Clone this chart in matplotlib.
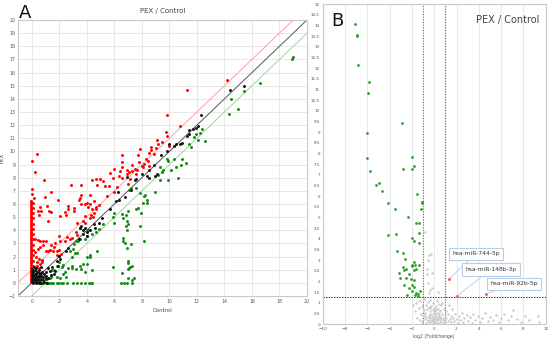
import matplotlib
matplotlib.use("Agg")
import matplotlib.pyplot as plt
import numpy as np

# ---------------- Panel A data (Control, PEX) ----------------
red_col_y = [0.1,0.2,0.3,0.4,0.5,0.6,0.7,0.8,0.9,1.0,1.1,1.2,1.35,1.5,1.6,1.75,1.9,2.0,2.15,2.3,2.45,2.6,2.7,2.85,
             3.0,3.15,3.3,3.45,3.6,3.75,3.9,4.05,4.2,4.35,4.5,4.65,4.8,4.95,5.1,5.25,5.4,5.55,5.7,5.85,6.0,6.15,6.25]
red_col2_y = [0.3,0.6,0.9,1.3,1.7,2.1,2.5,2.9,3.3,3.7,4.1,4.5,4.9,5.3,5.7,6.1]
red_pts = [(0.0,9.3),(0.4,9.8),(0.2,8.4),(0.87,7.85),(0.0,7.13),(0.0,6.78),(0.17,6.46),(0.6,5.8),(0.7,5.5),(0.45,5.5),
           (0.5,5.2),(0.95,6.57),(1.43,6.93),(1.14,5.86),(1.25,5.5),(1.43,5.4),(1.19,4.72),(1.94,6.3),(2.04,5.1),(2.4,5.36),
           (2.5,5.18),(2.6,5.86),(2.6,5.6),(2.84,7.46),(3.1,5.7),(3.1,5.5),(3.56,7.46),(3.5,6.45),(3.45,6.3),(3.6,6.65),
           (3.6,6.0),(3.85,5.99),(4.0,6.1),(4.1,5.75),(4.2,6.65),(4.25,6.0),(4.36,7.79),(4.65,7.89),(4.94,7.89),(4.75,7.46),
           (4.4,5.6),(4.5,5.35),(4.65,5.6),(4.7,5.8),(4.55,6.2),(4.85,5.9),(5.2,7.76),(5.3,7.4),(5.68,8.35),(5.6,7.4),
           (5.5,6.63),(5.9,7.97),(6.0,6.9),(6.2,7.3),(6.35,8.15),(6.4,8.5),(6.55,7.97),(6.95,8.3),(7.0,7.5),(7.05,8.4),
           (7.15,7.9),(7.25,8.5),(7.6,8.3),(7.65,8.6),
           (0.24,3.35),(0.45,3.28),(0.6,3.2),(0.85,3.2),(1.07,3.15),(0.8,2.9),(0.6,2.75),(1.07,2.4),(1.2,2.4),(1.35,2.5),
           (1.55,2.45),(1.4,2.9),(1.7,3.0),(2.0,2.5),(2.04,3.15),(1.8,2.45),(2.0,3.58),(2.1,2.2),(2.45,3.15),(2.55,3.5),
           (2.9,3.4),(3.3,3.65),(1.8,2.13),(0.3,2.0),(0.35,1.6),(0.55,1.8),(0.75,1.75),(0.72,1.55),(0.4,1.3),(0.5,1.1),
           (0.3,0.9),(0.6,1.45),(0.25,2.35),(0.45,2.55),(1.6,2.7),(3.7,4.7),(3.85,4.55),(3.5,4.2),(3.3,4.55),(3.9,5.05),
           (3.2,3.85),(2.8,3.35),(4.3,5.2),(4.45,5.0),(4.2,4.9),
           (14.2,15.4),(11.25,14.7),(9.8,12.8),(9.75,11.45),(9.84,11.15),(10.8,11.95),(9.1,10.9),(9.16,10.6),(9.45,10.7),
           (8.7,10.3),(8.7,10.1),(9.0,10.25),(7.9,10.2),(7.7,9.7),(7.8,9.16),(8.3,9.4),(8.15,9.06),(8.0,8.9),(8.1,8.85),
           (8.5,8.9),(6.55,9.7),(6.55,9.16),(6.55,8.8),(5.95,8.65),(10.0,10.45),(8.55,9.9),(8.9,9.8),(7.3,9.0),(7.5,8.7),
           (6.9,8.6),(8.45,9.3)]
black_pts = [(8.87,9.0),(9.4,9.7),(9.8,10.0),(10.3,10.4),(10.5,10.6),(10.9,10.65),(11.4,11.3),(11.25,11.2),(11.4,11.6),
             (11.7,11.7),(11.9,11.75),(12.1,11.95),(12.3,12.75),(14.4,14.7),(15.4,14.95),(10.8,10.55),(10.0,10.55),
             (8.5,8.6),(8.0,8.3),(9.1,8.25),(8.95,8.1),(8.5,7.95),(8.4,8.15),(7.5,7.8),(7.55,7.9),(6.9,8.05),(6.3,6.9),
             (6.35,6.3),(5.68,5.6),(4.86,4.55),(4.55,4.45),(4.6,4.15),(4.2,4.05),(4.0,3.9),(3.75,3.75),(3.7,4.0),
             (3.6,4.3),(3.5,4.2),(3.4,3.3),(2.6,2.65),(2.5,2.4),(1.95,2.05),(2.05,1.85),(1.8,1.7),(1.5,1.2),(1.2,1.1),
             (1.05,0.85),(0.7,0.72),(4.05,3.6),(3.9,4.2),(5.1,4.9),(6.1,6.2),(7.2,7.1),(6.8,6.5),
             (0.0,0.05),(0.0,0.15),(0.0,0.3),(0.0,0.45),(0.0,0.6),(0.0,0.75),(0.0,0.9),(0.0,1.05),(0.1,0.0),(0.1,0.2),
             (0.1,0.4),(0.1,0.6),(0.1,0.8),(0.2,0.1),(0.2,0.3),(0.2,0.5),(0.2,0.7),(0.2,0.95),(0.3,0.0),(0.3,0.2),
             (0.3,0.45),(0.3,0.65),(0.35,0.85),(0.4,0.1),(0.4,0.3),(0.45,0.55),(0.5,0.0),(0.5,0.25),(0.5,0.75),
             (0.55,0.45),(0.6,0.1),(0.6,0.6),(0.65,0.3),(0.7,0.0),(0.7,0.5),(0.75,0.8),(0.8,0.2),(0.85,0.45),(0.9,0.05),
             (0.9,0.7),(1.0,0.3),(1.05,0.55),(1.1,0.0),(1.2,0.35),(0.15,1.2),(0.3,1.1),(0.5,1.0),(0.7,1.2),(1.4,0.6),
             (1.3,0.9),(1.6,0.7),(1.7,0.9),(1.9,1.3)]
green_pts = [(9.3,8.8),(9.9,9.3),(9.85,9.45),(10.3,9.45),(10.45,8.8),(10.9,9.45),(10.85,9.0),(11.2,9.1),(11.45,10.6),
             (11.6,10.3),(11.8,11.1),(11.9,11.3),(12.2,11.4),(12.1,10.9),(12.6,10.8),(12.4,11.7),(14.3,12.85),
             (14.45,13.97),(15.0,13.2),(15.4,14.6),(16.6,15.2),(18.9,17.06),(19.0,17.15),(9.55,8.55),(10.1,8.6),
             (10.64,7.97),(9.87,7.82),(9.43,8.4),(9.3,7.85),(8.95,6.93),(9.2,8.2),(8.2,6.7),(8.15,6.6),(8.35,6.3),
             (8.1,6.1),(8.4,6.1),(7.85,6.8),(7.97,5.35),(7.9,4.35),(8.15,3.2),(7.73,5.68),(7.6,5.6),(7.2,7.2),(7.1,7.05),
             (7.6,7.2),(7.0,5.48),(6.85,5.15),(6.95,4.67),(7.0,4.45),(6.88,4.3),(6.9,4.0),(6.53,5.23),(6.6,4.9),(6.6,3.4),
             (6.65,3.2),(6.77,3.0),(7.2,2.95),(6.9,2.65),(6.0,4.55),(6.96,1.7),(7.0,1.5),(7.0,1.05),(7.05,1.15),(7.15,1.2),
             (7.3,1.3),(6.57,0.73),(7.45,0.35),(7.25,0.2),(5.9,1.17),(6.5,0.0),(6.7,0.0),(6.9,0.0),(7.25,0.0),(7.0,0.4),
             (4.75,2.44),(4.25,2.0),(4.2,2.1),(4.0,1.95),(3.7,1.45),(4.0,1.4),(4.35,0.98),(3.85,0.8),(3.55,1.05),(3.5,1.3),
             (3.2,1.05),(2.95,1.3),(2.9,1.1),(2.65,1.15),(2.4,0.85),(2.3,1.35),(2.2,1.2),(2.3,0.7),(2.5,0.45),(1.8,0.45),
             (2.05,0.35),(1.65,0.95),(1.4,0.45),(1.25,0.35),(0.95,0.45),(1.3,0.35),
             (0.55,0.0),(0.67,0.0),(0.85,0.0),(1.05,0.0),(1.2,0.0),(1.3,0.0),(1.45,0.0),(1.55,0.0),(1.8,0.0),(1.9,0.0),
             (2.15,0.0),(2.3,0.0),(2.55,0.0),(3.0,0.0),(3.3,0.0),(3.6,0.0),(3.9,0.0),(4.15,0.0),(4.3,0.0),(4.4,0.0),
             (2.8,2.4),(2.9,2.0),(3.15,2.25),(3.3,2.3),(3.1,2.95),(3.2,3.2),(3.35,3.2),(3.5,3.3),(3.9,3.3),(4.0,3.6),
             (4.1,4.0),(4.86,4.1),(4.65,3.85),(4.35,3.7),(3.0,2.6),(2.0,1.55),(1.85,1.3),(1.5,1.0),(5.2,4.5),(5.9,5.0),
             (5.95,5.3)]

# ---------------- Panel B data (log2 FC, -log10 p) ----------------
green_b = [(-7.1,14.07),(-6.95,13.56),(-6.9,13.5),(-6.86,12.15),(-5.87,11.36),(-5.9,10.82),(-2.86,9.44),(-6.03,8.97),
           (-6.0,7.79),(-1.96,7.82),(-1.81,7.43),(-2.77,7.27),(-2.02,7.27),(-5.76,7.2),(-5.25,6.52),(-4.95,6.63),
           (-4.7,6.26),(-1.52,6.09),(-4.17,5.68),(-3.52,5.39),(-1.12,5.74),(-1.05,5.7),(-1.21,5.39),(-2.32,5.01),
           (-1.66,4.76),(-1.39,4.76),(-3.45,4.21),(-4.17,4.19),(-1.36,4.29),(-1.96,4.03),(-1.81,3.92),(-1.33,3.79),
           (-3.36,3.45),(-2.82,3.36),(-2.62,3.06),(-1.85,2.93),(-1.7,2.8),(-2.0,2.78),(-1.4,2.8),(-1.96,2.73),
           (-2.5,2.57),(-2.7,2.55),(-2.82,2.7),(-1.8,2.55),(-1.6,2.6),(-2.23,2.36),(-3.2,2.42),(-2.56,2.15),
           (-2.1,2.1),(-1.8,2.07),(-3.1,2.15),(-2.73,1.84),(-2.0,1.84),(-2.3,1.72),(-1.8,1.75),(-2.0,1.55),
           (-1.6,1.45),(-1.45,1.42),(-1.48,1.33),(-2.4,1.35),(-1.7,1.38),(-1.3,1.55)]
gray_b = [(-1.9,0.9),(-1.7,0.6),(-1.6,1.0),(-1.5,0.3),(-1.4,0.75),(-1.3,0.2),(-1.25,1.1),(-1.2,0.5),(-1.1,0.85),
          (-1.05,0.1),(-1.0,0.4),(-0.95,0.65),(-0.9,1.2),(-0.85,0.25),(-0.8,0.55),(-0.75,0.9),(-0.7,0.05),(-0.7,0.35),
          (-0.65,0.7),(-0.6,1.05),(-0.55,0.2),(-0.5,0.45),(-0.5,0.8),(-0.45,0.1),(-0.4,0.6),(-0.4,1.15),(-0.35,0.3),
          (-0.3,0.0),(-0.3,0.5),(-0.25,0.85),(-0.2,0.2),(-0.2,0.4),(-0.15,0.65),(-0.1,0.1),(-0.1,0.3),(-0.05,0.55),
          (0.0,0.0),(0.0,0.2),(0.0,0.75),(0.05,0.4),(0.1,0.1),(0.1,0.6),(0.15,0.3),(0.2,0.0),(0.2,0.5),(0.25,0.2),
          (0.3,0.7),(0.3,0.35),(0.35,0.05),(0.4,0.45),(0.45,0.25),(0.5,0.6),(0.5,0.1),(0.55,0.35),(0.6,0.9),
          (0.65,0.15),(0.7,0.5),(0.75,0.3),(0.8,0.05),(0.85,0.7),(0.9,0.2),(0.95,0.45),(1.0,0.1),(1.05,0.6),(1.1,0.3),
          (1.2,0.15),(1.25,0.5),(1.3,0.9),(1.4,0.25),(1.5,0.4),(1.55,0.1),(1.6,0.7),(1.7,0.3),(1.8,0.15),(1.9,0.5),
          (2.0,0.25),(2.1,0.05),(2.2,0.4),(2.3,0.2),(2.5,0.55),(2.6,0.1),(2.7,0.3),(2.9,0.45),(3.0,0.15),(3.2,0.35),
          (3.4,0.05),(3.5,0.5),(3.7,0.2),(3.9,0.4),(4.1,0.1),(4.3,0.3),(4.6,0.55),(4.8,0.15),(5.0,0.35),(5.3,0.2),
          (5.5,0.45),(5.8,0.1),(6.0,0.3),(6.3,0.5),(6.6,0.2),(6.9,0.4),(7.1,0.67),(7.4,0.25),(7.8,0.1),(8.15,0.38),
          (8.5,0.2),(9.35,0.37),(9.4,0.1),(-0.6,0.15),(-0.35,0.75),(0.15,0.85),(0.4,0.95),(-0.15,1.0),(0.25,1.1),
          (0.7,1.0),(-0.25,0.15),(0.05,0.1),(0.35,0.55),(-0.45,0.35),(0.6,0.25),(-0.05,0.25),(0.2,0.7),(-0.9,0.45),
          (-0.44,3.25),(-0.32,3.27),(-0.67,2.36),(-0.53,1.95),(-0.4,1.6),(-0.53,3.0),(-0.67,2.6),(-0.85,4.3),
          (-0.5,1.45),(0.3,1.5),(-0.22,2.4),(-0.2,1.7)]
red_b_x = [1.33, 2.02, 4.62]
red_b_y = [2.12, 1.32, 1.42]
red_b_labels = ["hsa-miR-744-5p", "hsa-miR-148b-3p", "hsa-miR-92b-5p"]
label_pos = [(3.75, 3.3), (5.1, 2.57), (7.15, 1.89)]

fc_up, fc_down, p_thr = 1.0, -1.0, 1.301

W, H = 550, 340
fig = plt.figure(figsize=(W/100, H/100), dpi=100)
fig.patch.set_facecolor("white")

def px_axes(l, t, r, b):
    return fig.add_axes([l/W, 1-b/H, (r-l)/W, (b-t)/H])

grid_c = "#e4e4e4"
spine_c = "#c8c8c8"
tick_fs = 3.3

# ---------- Panel A ----------
axA = px_axes(18, 20, 307, 296)
axA.set_xlim(-1, 20)
axA.set_ylim(-1, 20)
axA.set_xticks(range(0, 21, 2))
axA.set_yticks(range(-1, 21))
axA.grid(True, color=grid_c, lw=0.6)
axA.set_axisbelow(True)
for s in axA.spines.values():
    s.set_color(spine_c); s.set_linewidth(0.8)
axA.tick_params(length=0, labelsize=tick_fs, colors="#555555", pad=2)
line_x = np.array([-1, 20])
axA.plot(line_x, line_x + 1, color="#ff9f9f", lw=0.7)
axA.plot(line_x, line_x, color="#555555", lw=0.7)
axA.plot(line_x, line_x - 1, color="#9ad99a", lw=0.7)

def xs(p): return [a for a, b in p]
def ys(p): return [b for a, b in p]

ms = 4.5
axA.scatter([-0.03]*len(red_col_y), red_col_y, s=ms, c="#ff0000", lw=0, zorder=3)
axA.scatter([0.07]*len(red_col2_y), red_col2_y, s=ms, c="#ff0000", lw=0, zorder=3)
axA.scatter(xs(red_pts), ys(red_pts), s=ms, c="#ff0000", lw=0, zorder=3)
axA.scatter(xs(green_pts), ys(green_pts), s=ms, c="#138a13", lw=0, zorder=3)
axA.scatter(xs(black_pts), ys(black_pts), s=ms, c="#111111", lw=0, zorder=3)
axA.set_title("PEX / Control", fontsize=5, color="#444444", pad=5)
axA.set_xlabel("Control", fontsize=4, color="#444444", labelpad=3)
axA.set_ylabel("PEX", fontsize=4, color="#444444", labelpad=3)
fig.text(25/W, 1-13/H, "A", fontsize=13, ha="center", va="center", color="#111111")

# ---------- Panel B ----------
axB = px_axes(322.7, 4, 545.7, 324.3)
axB.set_xlim(-10, 10)
axB.set_ylim(0, 15)
axB.set_xticks(range(-10, 11, 2))
axB.set_yticks(np.arange(0, 15.01, 0.5))
axB.set_yticklabels([("%g" % v) for v in np.arange(0, 15.01, 0.5)])
axB.set_yticks(range(0, 16), minor=True)
axB.grid(False)
axB.grid(True, which="minor", axis="y", color=grid_c, lw=0.6)
axB.grid(True, which="major", axis="x", color=grid_c, lw=0.6)
axB.tick_params(which="minor", length=0)
axB.set_axisbelow(True)
for s in axB.spines.values():
    s.set_color(spine_c); s.set_linewidth(0.8)
axB.tick_params(length=0, labelsize=tick_fs*0.9, colors="#555555", pad=2)
axB.axvline(fc_down, color="#2e9e2e", lw=0.8, ls=(0, (1.2, 1.2)))
axB.axvline(fc_up, color="#ff3030", lw=0.8, ls=(0, (1.2, 1.2)))
axB.axhline(p_thr, color="#333333", lw=0.8, ls=(0, (1.2, 1.2)))
axB.scatter(xs(gray_b), ys(gray_b), s=3, c="#c9c9c9", lw=0, zorder=3)
axB.scatter(xs(green_b), ys(green_b), s=4, c="#2ca02c", lw=0, zorder=3)
axB.scatter(red_b_x, red_b_y, s=5, c="#ff5a6e", lw=0, zorder=4)
for (lx, ly), x, y, t in zip(label_pos, red_b_x, red_b_y, red_b_labels):
    axB.annotate(t, xy=(x, y), xytext=(lx, ly), fontsize=4.3, color="#333333",
                 ha="center", va="center", zorder=5,
                 bbox=dict(boxstyle="square,pad=0.6", fc="white", ec="#b8cde6", lw=0.8),
                 arrowprops=dict(arrowstyle="-", color="#b8cde6", lw=0.6, shrinkA=0, shrinkB=1))
axB.set_xlabel("log2 (Foldchange)", fontsize=3.3, color="#555555", labelpad=2)
axB.text(0.97, 0.965, "PEX / Control", transform=axB.transAxes, fontsize=7, ha="right", va="top", color="#444444")
axB.text(0.04, 0.975, "B", transform=axB.transAxes, fontsize=13, ha="left", va="top", color="#111111")

fig.savefig("out.png", dpi=100, facecolor="white")
